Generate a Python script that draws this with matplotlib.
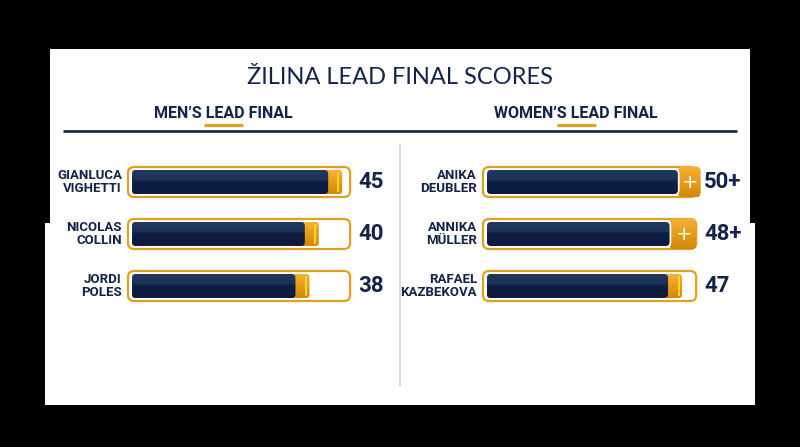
import numpy as np
import matplotlib.pyplot as plt
from matplotlib.patches import FancyBboxPatch, Rectangle
from matplotlib.colors import LinearSegmentedColormap

# data
men_names = ["GIANLUCA\nVIGHETTI", "NICOLAS\nCOLLIN", "JORDI\nPOLES"]
men_scores = [45, 40, 38]
men_labels = ["45", "40", "38"]
men_plus = [False, False, False]

women_names = ["ANIKA\nDEUBLER", "ANNIKA\nMÜLLER", "RAFAEL\nKAZBEKOVA"]
women_scores = [50, 48, 47]
women_labels = ["50+", "48+", "47"]
women_plus = [True, True, False]

title = "ŽILINA LEAD FINAL SCORES"
men_title = "MEN’S LEAD FINAL"
women_title = "WOMEN’S LEAD FINAL"

NAVY = "#13234a"
ORANGE = "#e2a01e"
YELLOW = "#ffd42a"
FONT = "Roboto"

orange_grad = LinearSegmentedColormap.from_list("og", ["#f3b338", "#e59d1a", "#d2880a"])
navy_grad = LinearSegmentedColormap.from_list(
    "ng", [(0, "#22385f"), (0.42, "#1b2f57"), (0.46, "#0f1f44"), (1, "#0b1a3d")])

W, H = 800, 447
fig = plt.figure(figsize=(W / 100, H / 100), dpi=100)
fig.patch.set_facecolor("black")

# background layer in pixel coordinates
bg = fig.add_axes([0, 0, 1, 1])
bg.set_xlim(0, W)
bg.set_ylim(H, 0)
bg.axis("off")
bg.add_patch(Rectangle((50, 49), 700, 180, color="white", lw=0))
bg.add_patch(Rectangle((45, 223), 710, 182, color="white", lw=0))

bg.text(400, 77, title, ha="center", va="center", fontsize=17,
        family="Lato", fontweight="normal", color=NAVY)
bg.text(223, 113, men_title, ha="center", va="center", fontsize=11.5,
        family=FONT, fontweight="bold", color=NAVY)
bg.text(576, 113, women_title, ha="center", va="center", fontsize=11.5,
        family=FONT, fontweight="bold", color=NAVY)
bg.plot([204, 243], [125, 125], color=ORANGE, lw=2.3, solid_capstyle="butt")
bg.plot([557, 596], [125, 125], color=ORANGE, lw=2.3, solid_capstyle="butt")
bg.plot([63, 737], [131, 131], color=NAVY, lw=1.9, solid_capstyle="butt")
bg.plot([400, 400], [145, 385], color="#d4d4d4", lw=1.3)

grad = np.linspace(0, 1, 64).reshape(-1, 1)


def rbox(ax, x0, x1, yc, h, aspect, r_px, px_unit, cmap=None, **kw):
    r = r_px / px_unit
    p = FancyBboxPatch((x0, yc - h / 2), x1 - x0, h,
                       boxstyle=f"round,pad=0,rounding_size={r}",
                       mutation_aspect=aspect, clip_on=False, **kw)
    ax.add_patch(p)
    if cmap is not None:
        p.set_facecolor("none")
        im = ax.imshow(grad, cmap=cmap, aspect="auto", interpolation="bilinear",
                       extent=(x0, x1, yc + h / 2, yc - h / 2),
                       zorder=p.get_zorder())
        im.set_clip_path(p)
    return p


def panel(left_px, box_lo, box_hi, px_unit, names, scores, labels, plus):
    pad = 10  # px of room around the boxes
    width_px = (box_hi - box_lo) * px_unit
    ax = fig.add_axes([(left_px - pad) / W, (H - 312) / H,
                       (width_px + 2 * pad) / W, 156 / H])
    row_px = 52.0
    aspect = px_unit / row_px
    box_h = 30 / row_px
    bar_h = 24 / row_px
    cap = 14 / px_unit
    for i, (name, s, lab, pl) in enumerate(zip(names, scores, labels, plus)):
        rbox(ax, box_lo, box_hi, i, box_h, aspect, 6, px_unit,
             facecolor="white", edgecolor=ORANGE, lw=1.6, zorder=1)
        if pl:
            end = max(s + 1.5, box_hi)
            rbox(ax, s - 4, end, i, box_h + 1 / row_px, aspect, 5, px_unit,
                 cmap=orange_grad, edgecolor="none", zorder=2)
            dark_end = s - 4
            # thin white gap around the navy bar
            rbox(ax, -0.3, dark_end + 0.4, i, bar_h + 3 / row_px, aspect, 5, px_unit,
                 facecolor="white", edgecolor="none", zorder=2.5)
            ax.text((dark_end + end) / 2 + 0.3, i, "+", ha="center", va="center",
                    color="white", fontsize=14, family="DejaVu Sans", zorder=5)
        else:
            rbox(ax, 0, s, i, bar_h, aspect, 3, px_unit,
                 cmap=orange_grad, edgecolor="none", zorder=2)
            ax.add_patch(Rectangle((s - 1.0, i - bar_h / 2 + 2 / row_px), 0.4,
                                   bar_h - 4 / row_px, color=YELLOW, lw=0, zorder=3))
            dark_end = s - cap
        rbox(ax, 0, dark_end, i, bar_h, aspect, 4, px_unit,
             cmap=navy_grad, edgecolor="none", zorder=3)
        ax.annotate(name, xy=(box_lo, i), xytext=(-6, 0), textcoords="offset pixels",
                    ha="right", va="center", fontsize=9.5, family=FONT,
                    fontweight="bold", color=NAVY, linespacing=1.05,
                    annotation_clip=False)
        ax.annotate(lab, xy=(box_hi, i), xytext=(8, 0), textcoords="offset pixels",
                    ha="left", va="center", fontsize=16, family=FONT,
                    fontweight="bold", color=NAVY, annotation_clip=False)
    ax.set_xlim(box_lo - pad / px_unit, box_hi + pad / px_unit)
    ax.set_ylim(2.5, -0.5)
    ax.axis("off")
    return ax


panel(128, -0.86, 46.7, 4.67, men_names, men_scores, men_labels, men_plus)
panel(483, -0.96, 50.4, 4.15, women_names, women_scores, women_labels, women_plus)

fig.savefig("out.png", dpi=100, facecolor="black")
